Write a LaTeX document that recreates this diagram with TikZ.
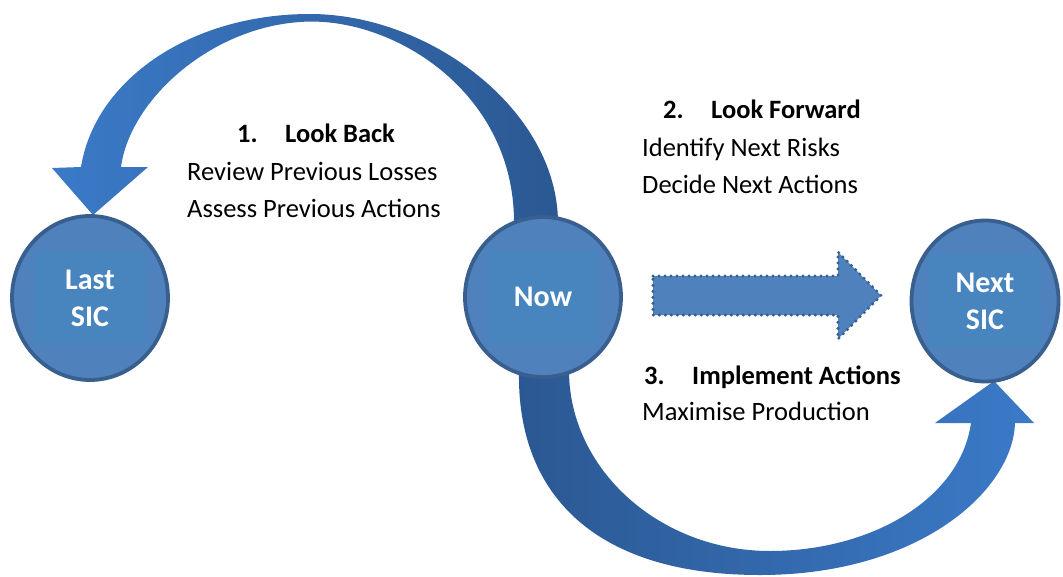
\documentclass[tikz,border=0pt]{standalone}
\usepackage{fontspec}
\setmainfont{Carlito}
\usetikzlibrary{shapes.geometric,calc}
\definecolor{circfill}{HTML}{4F81BD}
\definecolor{circin}{HTML}{4884BE}
\definecolor{circline}{HTML}{395F8E}
\definecolor{bandlight}{HTML}{3B7AC8}
\definecolor{banddark}{HTML}{2B5892}
\tikzset{
  sic/.style={ellipse, draw=circline, line width=3.8pt, fill=circfill, text=white,
    align=center, inner sep=0pt,
    font=\fontsize{30}{37}\selectfont\bfseries,
    path picture={\fill[circin] ($(path picture bounding box.center)+(-56,-47)$) rectangle ++(112,94);}},
  txt/.style={anchor=base west, inner sep=0pt, font=\fontsize{26.5}{30}\selectfont},
  hd/.style={txt, font=\fontsize{26.5}{30}\selectfont\bfseries}
}
\begin{document}
\begin{tikzpicture}[x=1pt,y=-1pt]
\useasboundingbox[fill=white] (0,0) rectangle (1063,576);
% top curved arrow (Now -> Last SIC)
\shade[left color=bandlight, right color=banddark]
  (558,222) .. controls (557,110) and (430,14) .. (310,14)
  .. controls (190,14) and (95,80) .. (81,167)
  -- (52,168) -- (93,215) -- (148,167) -- (121,167)
  .. controls (130,100) and (210,28) .. (300,22)
  .. controls (390,15) and (514,90) .. (514,222)
  -- cycle;
% bottom curved arrow (Now -> Next SIC)
\shade[left color=banddark, right color=bandlight]
  (519,372) .. controls (517,490) and (590,575) .. (760,575)
  .. controls (920,575) and (1013,490) .. (1015,423)
  -- (1034,423) -- (994,381) -- (935,423) -- (971,423)
  .. controls (960,500) and (870,551) .. (770,551)
  .. controls (660,551) and (570,470) .. (569,372)
  -- cycle;
% circles
\node[sic, minimum width=156pt, minimum height=164pt] (last) at (90,298) {Last\\SIC};
\node[sic, minimum width=156pt, minimum height=160pt] (now) at (543,297) {Now};
\node[sic, minimum width=147pt, minimum height=161pt] (next) at (985,301) {Next\\SIC};
% dotted arrow
\path[fill=circfill, draw=circline, line width=3.4pt, line cap=round, dash pattern=on 0pt off 6pt]
  (653,276) -- (838,276) -- (838,252) -- (881,295.5) -- (838,339) -- (838,315) -- (653,315) -- cycle;
% texts
\node[hd] (t1n) at (237,142) {1.};
\node[hd] (t1h) at (285,142) {Look Back};
\node[txt] (t1a) at (187,180) {Review Previous Losses};
\node[txt] (t1b) at (187,217) {Assess Previous Actions};
\node[hd] (t2n) at (663,118) {2.};
\node[hd] (t2h) at (711,118) {Look Forward};
\node[txt] (t2a) at (642,156) {Identify Next Risks};
\node[txt] (t2b) at (642,193) {Decide Next Actions};
\node[hd] (t3n) at (644,384) {3.};
\node[hd] (t3h) at (692,384) {Implement Actions};
\node[txt] (t3a) at (642,420) {Maximise Production};
\end{tikzpicture}
\end{document}
